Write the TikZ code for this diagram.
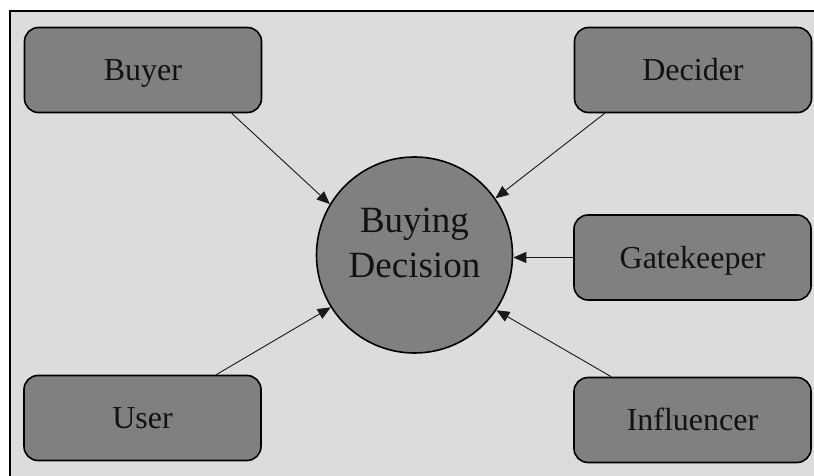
\documentclass[tikz,border=0pt]{standalone}
\usepackage{fontspec}
\setmainfont{Liberation Serif}
\usetikzlibrary{arrows.meta,calc}
\definecolor{panelgray}{RGB}{220,220,220}
\definecolor{boxgray}{RGB}{128,128,128}
\definecolor{inkgray}{RGB}{18,18,18}
\begin{document}
\begin{tikzpicture}[x=1pt,y=-1pt,
  role/.style={draw=black, line width=1.6pt, fill=boxgray, rounded corners=14pt,
    minimum width=237pt, minimum height=85pt, inner sep=0pt,
    font=\fontsize{32}{38}\selectfont, text=inkgray, text height=21pt, text depth=0pt},
  hub/.style={circle, draw=black, line width=1.6pt, fill=boxgray,
    minimum size=196pt, inner sep=0pt},
  hubtext/.style={align=center, inner sep=0pt, text=inkgray,
    font=\fontsize{37}{45}\selectfont},
  link/.style={draw=black!90, line width=0.9pt,
    -{Triangle[length=13pt,width=11pt]}}]
  % canvas and frame
  \useasboundingbox (0,0) rectangle (814,476);
  \fill[panelgray] (10,11) rectangle (814,476);
  \draw[line width=2.2pt] (10,477) -- (10,11) -- (815,11);

  % central decision
  \node[hub] (BD) at (414.5,255) {};
  \node[hubtext] (BDlabel) at (414.5,243) {Buying\\Decision};

  % roles
  \node[role] (Buyer) at (143,70) {Buyer};
  \node[role] (Decider) at (693,70) {Decider};
  \node[role] (Gatekeeper) at (692.5,257.5) {Gatekeeper};
  \node[role] (Influencer) at (692.5,420) {Influencer};
  \node[role] (User) at (142.5,418) {User};

  % influence arrows
  \draw[link] ($(Buyer.south west)+(208,0)$) -- (BD.149);
  \draw[link] ($(Decider.south west)+(31,0)$) -- (BD.35);
  \draw[link] (Gatekeeper.west) -- (Gatekeeper.west -| BD.east);
  \draw[link] ($(Influencer.north west)+(38,0)$) -- (BD.-34);
  \draw[link] ($(User.north west)+(193,0)$) -- (BD.-148);
\end{tikzpicture}
\end{document}
